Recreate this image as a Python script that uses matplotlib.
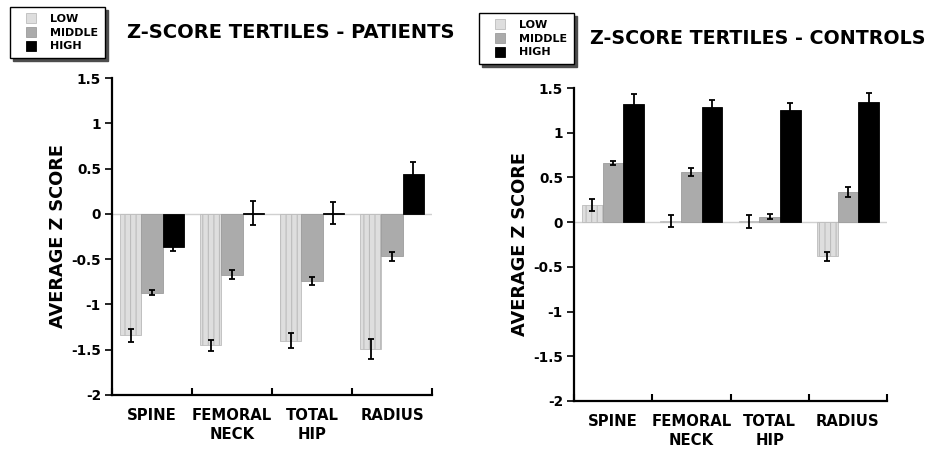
import matplotlib.pyplot as plt
import numpy as np
from matplotlib.lines import Line2D

SITES = ["SPINE", "FEMORAL\nNECK", "TOTAL\nHIP", "RADIUS"]
TERTILES = ["LOW", "MIDDLE", "HIGH"]

PAT_LOW = [-1.34, -1.45, -1.40, -1.49]
PAT_LOW_ERR = [0.07, 0.06, 0.08, 0.11]
PAT_MID = [-0.87, -0.67, -0.74, -0.47]
PAT_MID_ERR = [0.03, 0.05, 0.045, 0.045]
PAT_HIGH = [-0.37, 0.01, 0.01, 0.44]
PAT_HIGH_ERR = [0.04, 0.13, 0.12, 0.13]

CON_LOW = [0.19, 0.015, 0.01, -0.38]
CON_LOW_ERR = [0.065, 0.07, 0.075, 0.05]
CON_MID = [0.66, 0.56, 0.06, 0.335]
CON_MID_ERR = [0.02, 0.04, 0.03, 0.055]
CON_HIGH = [1.32, 1.29, 1.25, 1.34]
CON_HIGH_ERR = [0.11, 0.08, 0.08, 0.10]

FACE = ["#dedede", "#ababab", "#000000"]
EDGE = ["#bcbcbc", "#9c9c9c", "#000000"]
HATCH = ["|||", None, None]

plt.rcParams["font.family"] = ["DejaVu Sans"]
plt.rcParams["font.weight"] = "bold"
plt.rcParams["hatch.linewidth"] = 0.8


def draw_panel(ax, series, errors):
    x = np.arange(len(SITES)) + 0.5
    width = 0.265
    ax.axhline(0, color="#d0d0d0", lw=1.0, zorder=1)
    for k, (vals, errs) in enumerate(zip(series, errors)):
        xs = x + (k - 1) * width
        ax.bar(xs, vals, width, color=FACE[k], edgecolor=EDGE[k],
               hatch=HATCH[k], linewidth=0.6, zorder=2)
        ax.errorbar(xs, vals, yerr=errs, fmt="none", ecolor="black",
                    elinewidth=1.3, capsize=2.4, capthick=1.3, zorder=3)
    ax.set_xlim(0, len(SITES))
    ax.set_ylim(-2, 1.5)
    ax.set_yticks([-2, -1.5, -1, -0.5, 0, 0.5, 1, 1.5])
    ax.set_yticklabels(["-2", "-1.5", "-1", "-0.5", "0", "0.5", "1", "1.5"],
                       fontsize=9.8, fontweight="bold")
    ax.set_xticks(np.arange(len(SITES) + 1))
    ax.set_xticklabels([])
    ax.set_xticks(x, minor=True)
    ax.set_xticklabels(SITES, minor=True, fontsize=10.7, fontweight="bold",
                       linespacing=1.4)
    ax.tick_params(axis="x", which="major", direction="in", length=5, width=1.5)
    ax.tick_params(axis="x", which="minor", length=0, pad=9)
    ax.tick_params(axis="y", direction="out", length=5, width=1.2, pad=3)
    for side in ("top", "right"):
        ax.spines[side].set_visible(False)
    for side in ("left", "bottom"):
        ax.spines[side].set_linewidth(1.6)
    ax.set_ylabel("AVERAGE Z SCORE", fontsize=12.8, fontweight="bold", labelpad=3)


fig = plt.figure(figsize=(9.34, 4.49), dpi=100)
ax1 = fig.add_axes([112 / 934, 1 - 395 / 449, 320 / 934, 317 / 449])
ax2 = fig.add_axes([574 / 934, 1 - 401 / 449, 313 / 934, 313 / 449])

draw_panel(ax1, [PAT_LOW, PAT_MID, PAT_HIGH], [PAT_LOW_ERR, PAT_MID_ERR, PAT_HIGH_ERR])
draw_panel(ax2, [CON_LOW, CON_MID, CON_HIGH], [CON_LOW_ERR, CON_MID_ERR, CON_HIGH_ERR])

fig.text(291 / 934, 1 - 32 / 449, "Z-SCORE TERTILES - PATIENTS", fontsize=14,
         fontweight="bold", ha="center", va="center")
fig.text(758 / 934, 1 - 38 / 449, "Z-SCORE TERTILES - CONTROLS", fontsize=13.7,
         fontweight="bold", ha="center", va="center")

handles = [Line2D([], [], marker="s", linestyle="none", markersize=7.5,
                  markerfacecolor=FACE[k], markeredgecolor=EDGE[k], markeredgewidth=0.6)
           for k in range(3)]
for x0, y0 in [(10, 7), (479, 13)]:
    fig.legend(handles, TERTILES, loc="upper left",
               bbox_to_anchor=(x0 / 934, 1 - y0 / 449),
               prop={"size": 8, "weight": "bold"}, frameon=True, fancybox=False,
               shadow={"color": "0.3", "alpha": 1}, edgecolor="black", framealpha=1,
               handlelength=2.6, handletextpad=0.4,
               labelspacing=0.35, borderpad=0.6, borderaxespad=0)

fig.savefig("out.png", dpi=100, facecolor="white")
